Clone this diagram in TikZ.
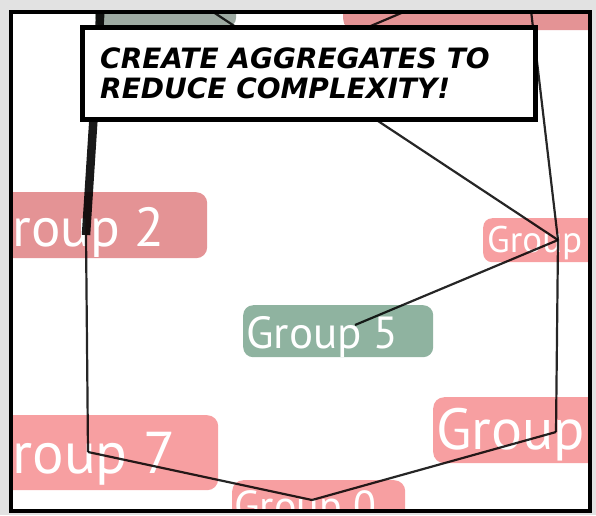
\documentclass[tikz,border=0pt]{standalone}
\usepackage{fontspec}
\setmainfont{PT Sans}
\newfontfamily\capfont{DejaVu Sans}
\definecolor{pinkA}{HTML}{E28A8D}
\definecolor{pinkB}{HTML}{F79799}
\definecolor{greenA}{HTML}{86AD98}
\definecolor{grayTop}{HTML}{95A39B}
\definecolor{outside}{HTML}{E2E2E2}
\begin{document}
\begin{tikzpicture}[x=1pt,y=-1pt,
  grp/.style={rectangle, rounded corners=11pt, draw=none, inner sep=0pt, anchor=north west, fill opacity=0.92},
  gtext/.style={text=white, inner sep=0pt, font=\fontsize{#1}{#1}\selectfont},
  edge/.style={draw=black, line width=2.2pt, draw opacity=0.85},
  thickedge/.style={draw=black, line width=8.5pt, draw opacity=0.9},
  captext/.style={inner sep=0pt, anchor=base west, font=\capfont\bfseries\itshape\fontsize{28}{28}\selectfont}]
\useasboundingbox (0,0) rectangle (596,515);
\fill[outside] (0,0) rectangle (596,515);
\fill[white] (11,12) rectangle (590,511);
\begin{scope}
\clip (11,12) rectangle (590,511);
% group nodes
\node[grp, fill=grayTop, minimum width=141pt, minimum height=58pt] (tg) at (95,-30) {};
\node[grp, fill=pinkA, minimum width=300pt, minimum height=60pt] (tp) at (343,-30) {};
\node[grp, fill=pinkA, minimum width=237pt, minimum height=66pt] (g2) at (-30,192) {};
\node[grp, fill=pinkB, minimum width=150pt, minimum height=44pt, rounded corners=9pt] (gR) at (483,218) {};
\node[grp, fill=greenA, minimum width=190pt, minimum height=52pt, rounded corners=10pt] (g5) at (243,305) {};
\node[grp, fill=pinkB, minimum width=248pt, minimum height=75pt] (g7) at (-30,415) {};
\node[grp, fill=pinkB, minimum width=200pt, minimum height=66pt] (gBR) at (433,397) {};
\node[grp, fill=pinkB, minimum width=173pt, minimum height=60pt] (g0) at (232,480) {};
% texts
\node[gtext=55, anchor=base east] (g2t) at (165,246) {Group 2};
\node[gtext=37, anchor=base west] (gRt) at (487,252) {Group};
\node[gtext=45, anchor=base west] (g5t) at (246,348) {Group 5};
\node[gtext=59, anchor=base east] (g7t) at (176,473) {Group 7};
\node[gtext=58, anchor=base west] (gBRt) at (436,449) {Group};
\node[gtext=42, anchor=base west] (g0t) at (234,520) {Group 0};
% edge anchors
\coordinate (tga) at (101,2);
\coordinate (tpa) at (530,2);
\coordinate (offa) at (195,0);
\coordinate (offb) at (432,0);
\coordinate (offc) at (366,28);
\coordinate (g2a) at (86,235);
\coordinate (g7a) at (88,452);
\coordinate (g0a) at (312,500);
\coordinate (gBRa) at (556,432);
\coordinate (gRa) at (558,240);
\coordinate (g5a) at (355,325);
% edges
\draw[thickedge] (tga) -- (g2a);
\draw[edge] (g2a) -- (g7a);
\draw[edge] (g7a) -- (g0a);
\draw[edge] (g0a) -- (gBRa);
\draw[edge] (gBRa) -- (gRa);
\draw[edge] (gRa) -- (tpa);
\draw[edge] (gRa) -- (g5a);
\draw[edge] (gRa) -- (offa);
\draw[edge] (offc) -- (offb);
% caption
\node[rectangle, draw=black, line width=4.5pt, fill=white, anchor=north west, minimum width=453pt, minimum height=92pt, inner sep=0pt] (cap) at (80,25) {};
\node[captext] (cap1) at (100,68) {CREATE AGGREGATES TO};
\node[captext] (cap2) at (100,98) {REDUCE COMPLEXITY!};
\end{scope}
\draw[black, line width=4.5pt] (11,12) rectangle (590,511);
\end{tikzpicture}
\end{document}
